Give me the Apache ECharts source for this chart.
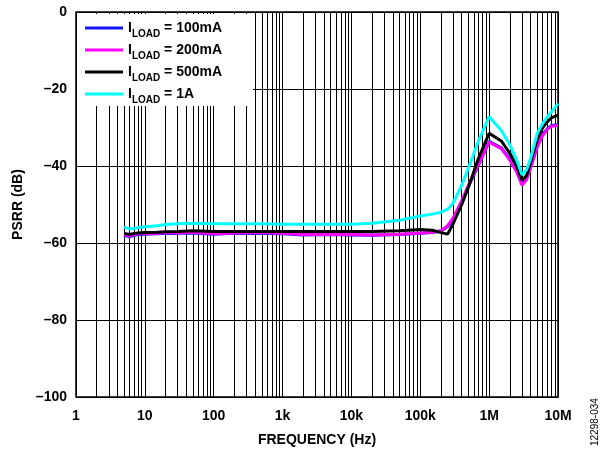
<!DOCTYPE html>
<html>
<head>
<meta charset="utf-8">
<script src="https://cdn.jsdelivr.net/npm/echarts@6/dist/echarts.min.js"></script>
<style>
html, body { margin: 0; padding: 0; background: #fff; }
#chart { width: 602px; height: 454px; }
</style>
</head>
<body>
<div id="chart"></div>
<script>
// frequency points (Hz)
const freq = [5, 6, 7, 8, 10, 15, 20, 30, 50, 100, 200, 500, 1000, 2000, 5000, 10000, 20000, 50000,
  100000, 150000, 200000, 250000, 300000, 400000, 500000, 700000, 1000000, 1500000, 2000000,
  2500000, 3000000, 3500000, 4000000, 5000000, 6000000, 7000000, 8000000, 10000000]

// PSRR values in dB
const psrr100mA = [-58.0, -58.4, -58.0, -57.8, -57.7, -57.6, -57.5, -57.5, -57.4, -57.7, -57.5, -57.5, -57.6, -57.9, -57.8, -57.9,
  -58.0, -57.8, -57.5, -57.3, -56.9, -55.7, -53.8, -49.3, -45.3, -39.8, -33.6, -35.3, -38.2, -41.2, -44.6,
  -43.2, -40.2, -34.8, -31.8, -30.3, -29.5, -29.3]
const psrr200mA = [-57.8, -58.2, -57.8, -57.6, -57.5, -57.5, -57.3, -57.4, -57.2, -57.6, -57.4, -57.3, -57.5, -57.8, -57.7, -57.8,
  -57.9, -57.7, -57.4, -57.2, -56.8, -55.5, -53.5, -49.0, -45.0, -39.5, -33.8, -35.5, -38.5, -41.5, -45.0,
  -43.5, -40.5, -35.0, -32.0, -30.5, -29.7, -29.5]
const psrr500mA = [-57.5, -57.8, -57.5, -57.4, -57.3, -57.2, -57.1, -57.0, -56.8, -57.0, -57.0, -57.0, -57.0, -57.0, -57.0, -57.0,
  -57.0, -56.8, -56.5, -56.7, -57.3, -57.7, -55.0, -50.0, -45.5, -38.0, -31.5, -33.5, -36.7, -40.0, -43.7,
  -42.5, -39.0, -33.0, -30.0, -28.5, -27.5, -26.8]
const psrr1A = [-55.8, -56.4, -56.2, -56.0, -55.8, -55.5, -55.2, -55.0, -54.9, -55.0, -55.0, -55.0, -55.1, -55.1, -55.1, -55.1,
  -54.9, -54.1, -53.0, -52.5, -52.0, -51.2, -49.6, -45.0, -40.5, -33.5, -27.2, -30.8, -34.5, -38.4, -42.3,
  -41.0, -38.0, -31.5, -28.9, -27.2, -26.0, -23.8]

const seriesNames = ['100mA', '200mA', '500mA', '1A']
const seriesColors = ['#1414ff', '#ff00ff', '#000000', '#00ffff']
const xTickValues = [1, 10, 100, 1000, 10000, 100000, 1000000, 10000000]
const xTickLabels = ['1', '10', '100', '1k', '10k', '100k', '1M', '10M']

const font = '"Liberation Sans", Arial, sans-serif'

// 2..9 lines inside every decade
let minorLines = []
for (let d = 1; d < 1e7; d *= 10) {
  for (let k = 2; k <= 9; k++) minorLines.push({ xAxis: k * d })
}

function pairs(vals) {
  return freq.map((f, i) => [f, vals[i]])
}

const chart = echarts.init(document.getElementById('chart'))
const allData = [psrr100mA, psrr200mA, psrr500mA, psrr1A]

let seriesArr = []
seriesArr.push({
  name: 'grid',
  type: 'line',
  data: [],
  z: 1,
  silent: true,
  markLine: {
    z: 1,
    silent: true,
    animation: false,
    symbol: ['none', 'none'],
    label: { show: false },
    lineStyle: { color: '#000', width: 1, type: 'solid' },
    data: minorLines,
  },
})
allData.forEach((vals, i) => {
  seriesArr.push({
    name: seriesNames[i],
    type: 'line',
    data: pairs(vals),
    showSymbol: false,
    symbol: 'none',
    z: 4,
    animation: false,
    lineStyle: { color: seriesColors[i], width: 3 },
    itemStyle: { color: seriesColors[i] },
  })
})

chart.setOption({
  animation: false,
  textStyle: { fontFamily: font },
  grid: {
    left: 76,
    right: 44,
    top: 12,
    bottom: 57,
    show: true,
    borderColor: '#000',
    borderWidth: 1.5,
  },
  legend: {
    data: seriesNames,
    orient: 'vertical',
    left: 80,
    top: 16,
    itemWidth: 38,
    itemHeight: 3,
    itemGap: 4,
    icon: 'rect',
    z: 6,
    formatter: (name) => '{a|I}{b|LOAD}{a| = ' + name + '}',
    textStyle: {
      rich: {
        a: { fontFamily: font, fontWeight: 'bold', fontSize: 14, color: '#000', lineHeight: 14, verticalAlign: 'top' },
        b: { fontFamily: font, fontWeight: 'bold', fontSize: 10, color: '#000', lineHeight: 10, padding: [8, 0, 0, 0], verticalAlign: 'top' },
      },
    },
  },
  graphic: [
    {
      type: 'rect',
      shape: { x: 77, y: 14, width: 176, height: 92 },
      style: { fill: '#fff' },
      z: 3,
      silent: true,
    },
    {
      type: 'text',
      x: 590,
      y: 446,
      rotation: Math.PI / 2,
      style: { text: '12298-034', font: '10px ' + font, fill: '#000' },
    },
  ],
  xAxis: {
    type: 'log',
    logBase: 10,
    min: 1,
    max: 1e7,
    name: 'FREQUENCY (Hz)',
    nameLocation: 'middle',
    nameGap: 36,
    nameTextStyle: { fontFamily: font, fontWeight: 'bold', fontSize: 14, color: '#000' },
    axisLine: { show: false },
    axisTick: { show: false },
    axisLabel: {
      margin: 12,
      fontFamily: font,
      fontWeight: 'bold',
      fontSize: 14,
      color: '#000',
      formatter: (v) => {
        const idx = xTickValues.findIndex((t) => Math.abs(Math.log10(t) - Math.log10(v)) < 1e-6)
        return idx >= 0 ? xTickLabels[idx] : ''
      },
    },
    splitLine: { show: true, lineStyle: { color: '#000', width: 1 } },
  },
  yAxis: {
    type: 'value',
    min: -100,
    max: 0,
    interval: 20,
    name: 'PSRR (dB)',
    nameLocation: 'middle',
    nameGap: 50,
    nameTextStyle: { fontFamily: font, fontWeight: 'bold', fontSize: 14, color: '#000' },
    axisLine: { show: false },
    axisTick: { show: false },
    axisLabel: {
      margin: 9,
      fontFamily: font,
      fontWeight: 'bold',
      fontSize: 14,
      color: '#000',
      formatter: (v) => String(v).replace('-', '\u2013'),
    },
    splitLine: { show: true, lineStyle: { color: '#000', width: 1 } },
  },
  series: seriesArr,
})
</script>
</body>
</html>
